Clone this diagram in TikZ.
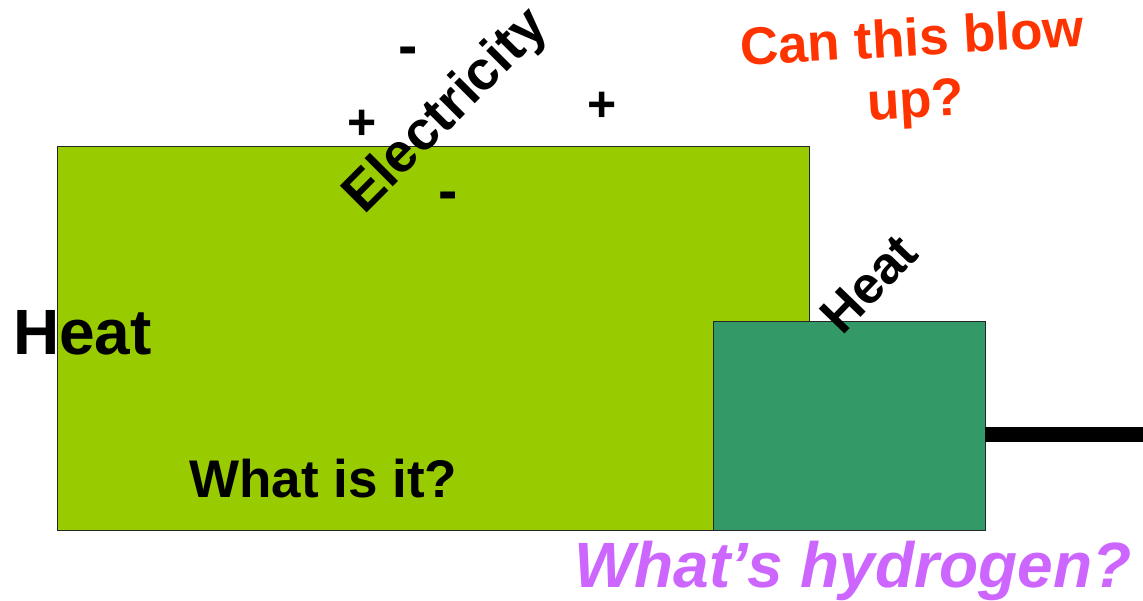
\documentclass[tikz,border=0pt]{standalone}
\usepackage{fontspec}
\setmainfont{Liberation Sans}
\begin{document}
\begin{tikzpicture}[x=1pt,y=-1pt,
  box/.style={draw=black!85,line width=1pt,inner sep=0pt,outer sep=0pt},
  lbl/.style={font=\bfseries\fontsize{#1}{#1}\selectfont,inner sep=0pt,text=black},
  sign/.style={font=\bfseries\fontsize{#1}{#1}\selectfont,inner sep=0pt,anchor=base}]
\definecolor{lightgr}{HTML}{99CC00}
\definecolor{darkgr}{HTML}{339966}
\definecolor{redq}{HTML}{FF3300}
\definecolor{purq}{HTML}{CC66FF}
\useasboundingbox (0,0) rectangle (1143,601);
% main box
\node[box,fill=lightgr,minimum width=752pt,minimum height=383pt] (main) at (433,338.5) {};
% small box
\node[box,fill=darkgr,minimum width=272pt,minimum height=208pt] (cell) at (849,426) {};
% output line
\coordinate (out) at (1143,434.5);
\draw[line width=15pt] (cell.east |- out) -- (out);
% texts
\node[lbl=64,anchor=base west] (heatL) at (13,355) {Heat};
\node[lbl=53,anchor=base west] (what) at (189,497) {What is it?};
\node[lbl=55,rotate=45] (elec) at (447,112) {Electricity};
\node[lbl=52,rotate=46] (heatR) at (869,284) {Heat};
\node[sign=58] (m1) at (408,66) {-};
\node[sign=58] (m2) at (448,211) {-};
\node[sign=50] (p1) at (362,140) {+};
\node[sign=50] (p2) at (602,122) {+};
\node[lbl=52,text=redq,rotate=3.3,align=center,font=\bfseries\fontsize{53}{62}\selectfont] (blow) at (914,73) {Can this blow\\up?};
\node[lbl=64,text=purq,font=\bfseries\itshape\fontsize{64}{64}\selectfont,anchor=base] (hyd) at (853,587) {What’s hydrogen?};
\end{tikzpicture}
\end{document}
